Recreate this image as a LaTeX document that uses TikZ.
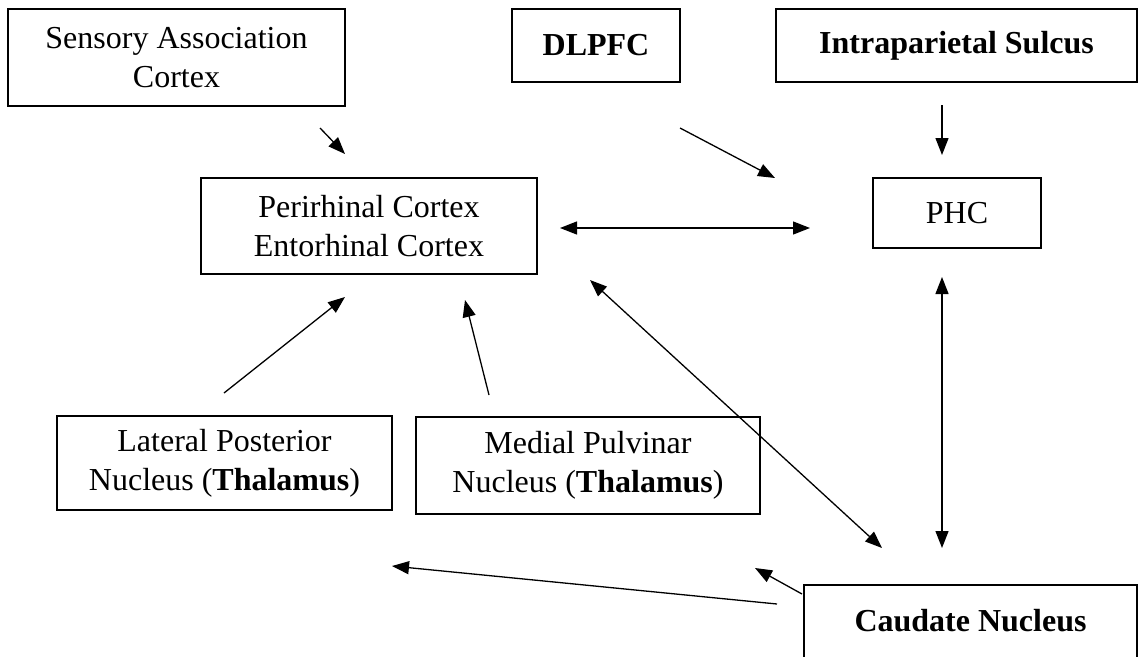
\documentclass[tikz,border=0pt]{standalone}
\usepackage{fontspec}
\setmainfont{Liberation Serif}
\usetikzlibrary{arrows.meta}
\begin{document}
\begin{tikzpicture}[x=1pt,y=-1pt,
  box/.style={draw, line width=1.4pt, align=center, inner sep=0pt, font=\fontsize{32}{39}\selectfont},
  conn/.style={line width=1.3pt, -{Triangle[length=17pt,width=13pt]}},
  bconn/.style={line width=1.3pt, {Triangle[length=17pt,width=13pt]}-{Triangle[length=17pt,width=13pt]}}]
\useasboundingbox (0,0) rectangle (1139,656);
\clip (0,0) rectangle (1139,656);
\node[box, minimum width=337pt, minimum height=97pt] (sens) at (176.5,57.5) {Sensory Association\\Cortex};
\node[box, minimum width=168pt, minimum height=73pt] (dlpfc) at (596,45.5) {\textbf{DLPFC}};
\node[box, minimum width=361pt, minimum height=73pt] (ips) at (956.5,45.5) {\textbf{Intraparietal Sulcus}};
\node[box, minimum width=336pt, minimum height=96pt] (peri) at (369,226) {Perirhinal Cortex\\Entorhinal Cortex};
\node[box, minimum width=168pt, minimum height=70pt] (phc) at (957,213) {PHC};
\node[box, minimum width=335pt, minimum height=94pt] (lp) at (224.5,463) {Lateral Posterior\\Nucleus (\textbf{Thalamus})};
\node[box, minimum width=344pt, minimum height=97pt] (mp) at (588,465.5) {Medial Pulvinar\\Nucleus (\textbf{Thalamus})};
\node[box, minimum width=333pt, anchor=base, text height=40pt, text depth=60pt, inner ysep=6pt] (caud) at (970.5,631) {\textbf{Caudate Nucleus}};
% connector end points
\coordinate (s1) at (320,128); \coordinate (e1) at (345,154);
\coordinate (s2) at (680,128); \coordinate (e2) at (775,178);
\coordinate (s3) at (942,105); \coordinate (e3) at (942,155);
\coordinate (s4) at (560,228); \coordinate (e4) at (810,228);
\coordinate (s5) at (224,393); \coordinate (e5) at (345,297);
\coordinate (s6) at (489,395); \coordinate (e6) at (465,300);
\coordinate (s7) at (590,280); \coordinate (e7) at (882,548);
\coordinate (s8) at (942,277); \coordinate (e8) at (942,548);
\coordinate (s9) at (802,594); \coordinate (e9) at (755,568);
\coordinate (s10) at (777,604); \coordinate (e10) at (392,566);
\draw[conn] (s1) -- (e1);
\draw[conn] (s2) -- (e2);
\draw[conn] (s3) -- (e3);
\draw[bconn] (s4) -- (e4);
\draw[conn] (s5) -- (e5);
\draw[conn] (s6) -- (e6);
\draw[bconn] (s7) -- (e7);
\draw[bconn] (s8) -- (e8);
\draw[conn] (s9) -- (e9);
\draw[conn] (s10) -- (e10);
\end{tikzpicture}
\end{document}
